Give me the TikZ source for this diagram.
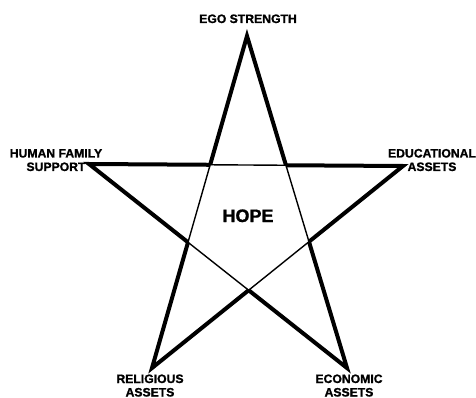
\documentclass[tikz,border=0pt]{standalone}
\usepackage{fontspec}
\setmainfont{Liberation Sans}[BoldFeatures={FakeBold=1.2}]
\begin{document}
\begin{tikzpicture}[x=1pt,y=-1pt,
  spike/.style={line width=4pt,line join=miter},
  inner/.style={line width=1.4pt},
  lbl/.style={font=\bfseries\fontsize{12.2}{13.5}\selectfont,align=center,anchor=base,inner sep=0pt},
  hopelbl/.style={font=\bfseries\fontsize{18}{20}\selectfont,anchor=base,inner sep=0pt}]
\clip (0,0) rectangle (476,398);
\fill[white] (0,0) rectangle (476,398);
% star tips
\coordinate (T) at (247,36);
\coordinate (L) at (89,164);
\coordinate (R) at (403,166);
\coordinate (BL) at (152,368);
\coordinate (BR) at (347,368);
% inner pentagon vertices
\coordinate (P1) at (intersection of T--BL and L--R);
\coordinate (P2) at (intersection of T--BR and L--R);
\coordinate (P3) at (intersection of T--BR and R--BL);
\coordinate (P4) at (intersection of L--BR and R--BL);
\coordinate (P5) at (intersection of T--BL and L--BR);
% inner pentagon (thin)
\draw[inner] (P1) -- (P2) -- (P3) -- (P4) -- (P5) -- cycle;
% spikes (thick)
\draw[spike] (P1) -- (T) -- (P2);
\draw[spike] (P1) -- (L) -- (P5);
\draw[spike] (P2) -- (R) -- (P3);
\draw[spike] (P5) -- (BL) -- (P4);
\draw[spike] (P3) -- (BR) -- (P4);
% labels (base = baseline of last line)
\node[lbl] (ego) at (248,23) {EGO STRENGTH};
\node[lbl] (hfs) at (56,171) {HUMAN FAMILY\\SUPPORT};
\node[lbl] (edu) at (432,171) {EDUCATIONAL\\ASSETS};
\node[lbl] (rel) at (150,396.5) {RELIGIOUS\\ASSETS};
\node[lbl] (eco) at (349,396.5) {ECONOMIC\\ASSETS};
\node[hopelbl] (hope) at (248,222) {HOPE};
\end{tikzpicture}
\end{document}
